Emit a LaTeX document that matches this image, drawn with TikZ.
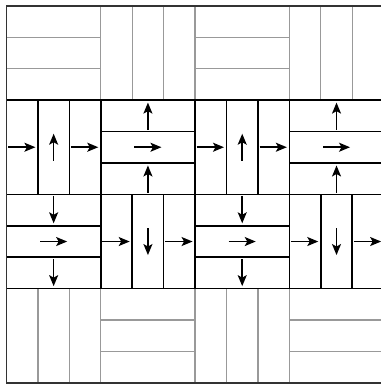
\documentclass[tikz,border=0pt]{standalone}
\usepackage{tikz}
\usetikzlibrary{arrows.meta}
\tikzstyle{pale} = [draw=black!40, line width=1.3bp]
\tikzstyle{woven} = [draw=black, line width=1.6bp]
\tikzstyle{frame} = [draw=black!80, line width=1.6bp]
\tikzstyle{arrow} = [line width=1.5bp, -{Stealth[length=11bp,width=9bp,inset=2.5bp]}]
% one block of three strips, lying or standing
\newcommand{\hblock}[1]{\draw[#1] (0,0) rectangle (3,3) (0,1) -- (3,1) (0,2) -- (3,2);}
\newcommand{\vblock}[1]{\draw[#1] (0,0) rectangle (3,3) (1,0) -- (1,3) (2,0) -- (2,3);}

\begin{document}
\begin{tikzpicture}[x=31.43bp, y=-31.43bp]
    \useasboundingbox (0,0) rectangle (381bp,-385bp);
    \begin{scope}[shift={(6.5bp,-5.8bp)}]
    % Top row
    \foreach \c in {0,6} {
        \begin{scope}[shift={(\c,0)}] \hblock{pale} \end{scope}
        \begin{scope}[shift={(\c+3,0)}] \vblock{pale} \end{scope}
    }
    % Bottom row
    \foreach \c in {0,6} {
        \begin{scope}[shift={(\c,9)}] \vblock{pale} \end{scope}
        \begin{scope}[shift={(\c+3,9)}] \hblock{pale} \end{scope}
    }
    % Second row: flow to the right and upwards
    \foreach \c in {0,6} {
        \begin{scope}[shift={(\c,3)}]
            \vblock{woven}
            \draw[arrow] (0.05,1.5) -- (0.92,1.5);
            \draw[arrow] (1.5,1.93) -- (1.5,1.07);
            \draw[arrow] (2.05,1.5) -- (2.92,1.5);
        \end{scope}
        \begin{scope}[shift={(\c+3,3)}]
            \hblock{woven}
            \draw[arrow] (1.5,0.95) -- (1.5,0.08);
            \draw[arrow] (1.07,1.5) -- (1.93,1.5);
            \draw[arrow] (1.5,2.95) -- (1.5,2.08);
        \end{scope}
    }
    % Third row: flow to the right and downwards
    \foreach \c in {0,6} {
        \begin{scope}[shift={(\c,6)}]
            \hblock{woven}
            \draw[arrow] (1.5,0.05) -- (1.5,0.92);
            \draw[arrow] (1.07,1.5) -- (1.93,1.5);
            \draw[arrow] (1.5,2.05) -- (1.5,2.92);
        \end{scope}
        \begin{scope}[shift={(\c+3,6)}]
            \vblock{woven}
            \draw[arrow] (0.05,1.5) -- (0.92,1.5);
            \draw[arrow] (1.5,1.07) -- (1.5,1.93);
            \draw[arrow] (2.05,1.5) -- (2.92,1.5);
        \end{scope}
    }
    % Outer frame
    \draw[frame] (0,0) rectangle (12,12);
    \end{scope}
\end{tikzpicture}
\end{document}
